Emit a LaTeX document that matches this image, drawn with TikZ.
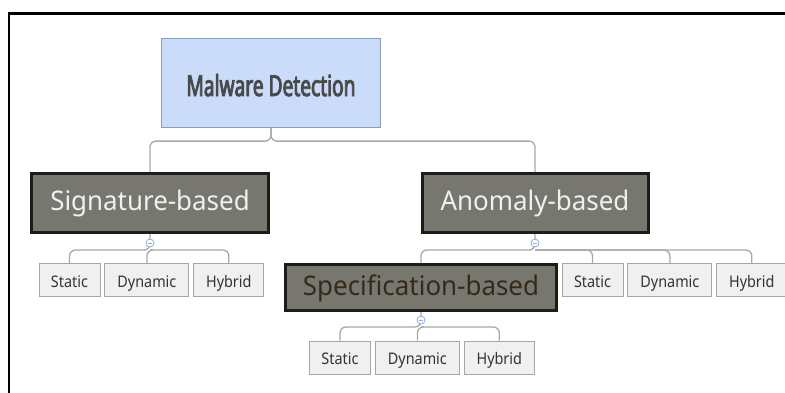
\documentclass[tikz,border=0pt]{standalone}
\usepackage{fontspec}
\setmainfont{Noto Sans}
\newfontfamily\rootfont[FakeStretch=0.66, FakeBold=3]{Noto Sans}
\newfontfamily\branchfont[FakeStretch=0.96]{Noto Sans}
\newfontfamily\leaffont[FakeStretch=0.9]{Noto Sans}
\usetikzlibrary{positioning,calc}
\definecolor{MapBlue}{HTML}{CADCFA}
\definecolor{MapBlueLine}{HTML}{8A9DBF}
\definecolor{MapGray}{HTML}{777770}
\definecolor{MapDark}{HTML}{1C1C18}
\definecolor{MapLeaf}{HTML}{F0F0F0}
\definecolor{MapLeafLine}{HTML}{A6A6A6}
\definecolor{MapLine}{HTML}{A8A8A8}
\definecolor{MapFold}{HTML}{92ACE4}
\definecolor{MapText}{HTML}{4A4A4A}
\definecolor{MapLeafText}{HTML}{333333}
\definecolor{MapBrown}{HTML}{35291A}
\tikzset{
  rootbox/.style={draw=MapBlueLine, line width=1.2pt, fill=MapBlue, text=MapText,
    minimum width=219pt, minimum height=89pt, inner sep=0pt,
    text height=26pt, text depth=0pt, font=\rootfont\fontsize{29}{32}\selectfont},
  branchbox/.style={draw=MapDark, line width=3pt, fill=MapGray, text=white!94!black,
    minimum height=59pt, inner sep=0pt, text height=21pt, text depth=6pt,
    font=\branchfont\fontsize{27}{30}\selectfont},
  leafbox/.style={draw=MapLeafLine, line width=0.9pt, fill=MapLeaf, text=MapLeafText,
    minimum height=33pt, inner sep=0pt, text height=17pt, text depth=2.4pt,
    font=\leaffont\fontsize{16}{18}\selectfont},
  link/.style={draw=MapLine, line width=1.3pt, rounded corners=6pt},
  foldmark/.style={circle, draw=MapFold, line width=0.8pt, fill=white,
    minimum size=8pt, inner sep=0pt},
  frame/.style={draw=black, line cap=rect}
}

\begin{document}
\begin{tikzpicture}[x=1pt, y=-1pt, node distance=4pt]
  \useasboundingbox (0,0) rectangle (785,392);
  % outer frame, only top and left visible
  \draw[frame, line width=3pt] (9,13) -- (790,13);
  \draw[frame, line width=2pt] (9,13) -- (9,400);

  \node[rootbox] (root) at (271,83) {Malware Detection};
  \node[branchbox, minimum width=237pt] (sig) at (150,203) {Signature-based};
  \node[branchbox, minimum width=226pt] (ano) at (535,203) {Anomaly-based};
  \node[branchbox, minimum width=271pt, minimum height=46pt, text=MapBrown] (spec) at (421,287.5) {Specification-based};

  % leaves of signature-based
  \node[leafbox, minimum width=61pt] (sigstatic) at (69.5,280) {Static};
  \node[leafbox, minimum width=84pt, right=of sigstatic] (sigdyn) {Dynamic};
  \node[leafbox, minimum width=70pt, right=of sigdyn] (sighyb) {Hybrid};

  % leaves of anomaly-based
  \node[leafbox, minimum width=61pt] (anostatic) at (592.5,280) {Static};
  \node[leafbox, minimum width=84pt, right=of anostatic] (anodyn) {Dynamic};
  \node[leafbox, minimum width=70pt, right=of anodyn] (anohyb) {Hybrid};

  % leaves of specification-based
  \node[leafbox, minimum width=61pt] (specstatic) at (340,357.5) {Static};
  \node[leafbox, minimum width=84pt, right=of specstatic] (specdyn) {Dynamic};
  \node[leafbox, minimum width=70pt, right=of specdyn] (spechyb) {Hybrid};

  \coordinate (rootbus) at ($(root.south)+(0,13)$);
  \coordinate (sigbus) at ($(sig.south)+(0,16)$);
  \coordinate (anobus) at ($(ano.south)+(0,16)$);
  \coordinate (specbus) at ($(spec.south)+(0,15)$);

  \draw[link] (root.south) -- (rootbus) -| (sig.north);
  \draw[link] (root.south) -- (rootbus) -| (ano.north);
  \draw[link] (sig.south) -- (sigbus) -| (sigstatic.north);
  \draw[link] (sigbus) -| (sigdyn.north);
  \draw[link] (sigbus) -| (sighyb.north);
  \draw[link] (ano.south) -- (anobus) -| (spec.north);
  \draw[link] (anobus) -| (anostatic.north);
  \draw[link] (anobus) -| (anodyn.north);
  \draw[link] (anobus) -| (anohyb.north);
  \draw[link] (spec.south) -- (specbus) -| (specstatic.north);
  \draw[link] (specbus) -| (specdyn.north);
  \draw[link] (specbus) -| (spechyb.north);

  \node[foldmark] (sigfold) at ($(sig.south)+(0,9)$) {};
  \node[foldmark] (anofold) at ($(ano.south)+(0,9)$) {};
  \node[foldmark] (specfold) at ($(spec.south)+(0,8)$) {};
  \draw[MapFold, line width=0.8pt] ($(sigfold.center)+(-2,0)$) -- ($(sigfold.center)+(2,0)$);
  \draw[MapFold, line width=0.8pt] ($(anofold.center)+(-2,0)$) -- ($(anofold.center)+(2,0)$);
  \draw[MapFold, line width=0.8pt] ($(specfold.center)+(-2,0)$) -- ($(specfold.center)+(2,0)$);
\end{tikzpicture}
\end{document}
